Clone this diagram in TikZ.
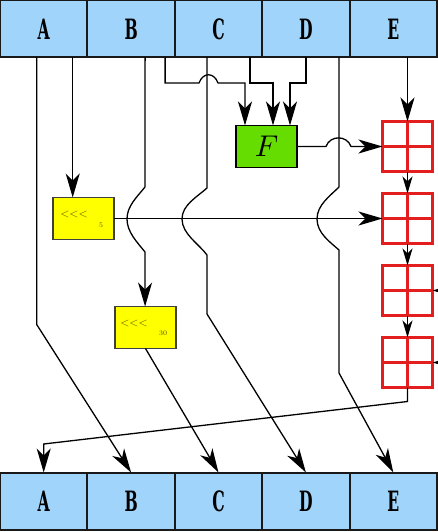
\documentclass[tikz,border=0pt]{standalone}
\usepackage{graphicx}
\usepackage{fontspec}
\usetikzlibrary{arrows.meta,calc,positioning}
\newfontfamily\regfont{DejaVu Serif Condensed}
\definecolor{regblue}{RGB}{160,212,250}
\definecolor{fgreen}{RGB}{102,221,0}
\definecolor{shlyellow}{RGB}{255,255,0}
\definecolor{gridred}{RGB}{228,30,30}
\definecolor{shltext}{RGB}{80,80,0}
\newcommand{\regname}[1]{\scalebox{0.62}[1]{\regfont\fontsize{28}{30}\selectfont\bfseries #1}}
\tikzset{
    reg/.style = {draw=black!90, line width=2pt, fill=regblue, rectangle,
        outer sep=0pt, inner sep=0pt,
        minimum height=57pt,
        minimum width=87.4pt},
    shl/.style = {draw=black!75, line width=1.2pt, fill=shlyellow, rectangle,
        outer sep=0pt,
        minimum height=42pt,
        minimum width=61pt},
    func/.style = {draw, line width=1.4pt, fill=fgreen, rectangle,
        outer sep=0pt, inner sep=0pt,
        minimum height=42pt,
        minimum width=61pt},
    quad/.style = {draw=gridred, line width=2.3pt, rectangle,
        outer sep=0pt, minimum size=50pt,
        path picture={\draw[gridred, line width=2.3pt]
            (path picture bounding box.north) -- (path picture bounding box.south)
            (path picture bounding box.west) -- (path picture bounding box.east);}},
    op/.style = {text=shltext, font=\fontsize{13}{13}\selectfont, inner sep=0pt},
    amt/.style = {text=shltext, font=\fontsize{7}{7}\selectfont, inner sep=0pt},
    wire/.style = {line width=1.3pt},
    arr/.style = {wire, -{Stealth[length=24pt,width=14pt,inset=7pt]}},
    sarr/.style = {wire, -{Stealth[length=17pt,width=10pt,inset=5pt]}},
}
\begin{document}
\begin{tikzpicture}[x=1pt, y=-1pt]
		\useasboundingbox (0,0) rectangle (437,532);
		% source registers
		\node [reg] (tA) at (43.7,29) {\regname{A}};
		\node [reg, right=0pt of tA] (tB) {\regname{B}};
		\node [reg, right=0pt of tB] (tC) {\regname{C}};
		\node [reg, right=0pt of tC] (tD) {\regname{D}};
		\node [reg, right=0pt of tD] (tE) {\regname{E}};
		
		% destination registers
		\node [reg] (bA) at (43.7,501) {\regname{A}};
		\node [reg, right=0pt of bA] (bB) {\regname{B}};
		\node [reg, right=0pt of bB] (bC) {\regname{C}};
		\node [reg, right=0pt of bC] (bD) {\regname{D}};
		\node [reg, right=0pt of bD] (bE) {\regname{E}};
		
		% shifters
		\node [shl] (shlA) at (83.5,218.5) {};
		\node [op] (shlAop) at (74,214) {$<<<$};
		\node [amt] (shlAamt) at (101,225) {5};
		\node [shl] (shlB) at (145.5,327.5) {};
		\node [op] (shlBop) at (134,323) {$<<<$};
		\node [amt] (shlBamt) at (163,333) {30};
		
		\node [func] (F) at (266.5,146.5) {\scalebox{3}{$F$}};
		
		% grids
		\node [quad] (g1) at (407.5,146.5) {};
		\node [quad, below=22pt of g1] (g2) {};
		\node [quad, below=22pt of g2] (g3) {};
		\node [quad, below=22pt of g3] (g4) {};
		
		\coordinate (sA1) at ($(tA.south)+(-7,0)$);
		\coordinate (sA2) at ($(tA.south)+(29,0)$);
		\coordinate (sB1) at ($(tB.south)+(14,0)$);
		\coordinate (sB2) at ($(tB.south)+(34,0)$);
		\coordinate (sC1) at ($(tC.south)+(-11.5,0)$);
		\coordinate (sC2) at ($(tC.south)+(31.5,0)$);
		\coordinate (sD1) at (tD.south);
		\coordinate (sD2) at ($(tD.south)+(33,0)$);
		\coordinate (fin1) at ($(F.north west)+(9,0)$);
		\coordinate (fin2) at ($(F.north)+(6.5,0)$);
		\coordinate (fin3) at ($(F.north east)+(-7,0)$);
		\coordinate (r3) at ($(g3.east)+(14,0)$);
		\coordinate (r4) at ($(g4.east)+(14,0)$);
		
		%% connecting lines
		\draw [arr] (sA1) -- ++(0,267) -- (bB.north);
		\draw [arr] (sA2) -- (sA2 |- shlA.north);
		\draw [arr] (shlA.east) -- (shlA.east -| g2.west);
		\draw [arr] (sB1) -- (145,187) .. controls (137,197) and (127,206) .. (127,219)
			.. controls (127,232) and (137,242) .. (145,252) -- (sB1 |- shlB.north);
		\draw [arr] (shlB.south) -- (bC.north);
		\draw [arr] (sC1) -- (207,188) .. controls (197,197) and (182,205) .. (182,219)
			.. controls (182,234) and (199,244) .. (207,255) -- (207,314) -- (bD.north);
		\draw [arr] (sD2) -- (339,187) .. controls (330,196) and (317,205) .. (317,219)
			.. controls (317,233) and (330,242) .. (339,250) -- (339,373) -- (bE.north);
		
		\draw [arr] (sB2) -- (sB2 |- 0,83) -- (199,83) .. controls (203,72) and (214,72) .. (218,83)
			-- (fin1 |- 0,83) -- (fin1);
		\draw [arr] (sC2) |- (fin2 |- 0,83) -- (fin2);
		\draw [arr] (sD1) |- (fin3 |- 0,83) -- (fin3);
		
		\draw [arr] (F.east) -- (326,146.5) .. controls (330,135) and (347,135) .. (351,146.5)
			-- (F.east -| g1.west);
		\draw [arr] (g1.north |- tE.south) -- (g1.north);
		\draw [sarr] (g1.south) -- (g2.north);
		\draw [sarr] (g2.south) -- (g3.north);
		\draw [sarr] (g3.south) -- (g4.north);
		\draw [sarr] (r3) -- (g3.east);
		\draw [sarr] (r4) -- (g4.east);
		\draw [arr] (g4.south) -- ++(0,14) -- (bA.north |- 0,444) -- (bA.north);

	\end{tikzpicture}
\end{document}
